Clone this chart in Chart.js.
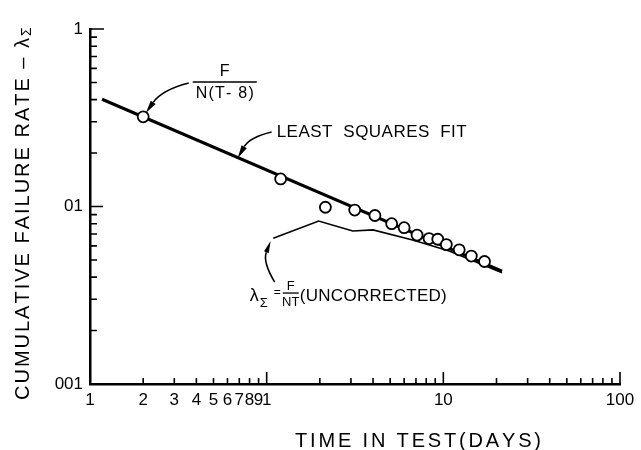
<!DOCTYPE html>
<html><head><meta charset="utf-8">
<script src="https://cdn.jsdelivr.net/npm/chart.js@4/dist/chart.umd.min.js"></script>
<style>html,body{margin:0;padding:0;background:#fff}#wrap{width:641px;height:450px}</style>
</head><body><div id="wrap"><canvas id="c" width="641" height="450"></canvas></div>
<script>
// ---- data (log-log plot) ----
const timeDays      = [0.2, 1.2, 2.15, 3.15, 4.1, 5.1, 6.0, 7.1, 8.3, 9.3, 10.4, 12.3, 14.4, 17.1];
const rateCorrected = [0.32, 0.143, 0.099, 0.0955, 0.089, 0.080, 0.076, 0.069, 0.066, 0.0654, 0.061, 0.057, 0.0526, 0.049];
const fitTime  = [0.117, 21.5];
const fitRate  = [0.402, 0.0433];
const uncorrTime = [1.09, 1.97, 3.07, 4.0, 6.7, 10.8, 21.5];
const uncorrRate = [0.0662, 0.0828, 0.0728, 0.0738, 0.0648, 0.0562, 0.0423];
const xTickValues = [0.1, 0.2, 0.3, 0.4, 0.5, 0.6, 0.7, 0.8, 0.9, 1, 10, 100];
const xTickLabels = ['1', '2', '3', '4', '5', '6', '7', '8', '9', '1', '10', '100'];
const yTickValues = [0.01, 0.1, 1];
const yTickLabels = ['001', '01', '1'];
const xTitle = 'TIME IN TEST(DAYS)';
const yTitle = 'CUMULATIVE FAILURE RATE \u2013 \u03bb';

const FONT = '"Liberation Sans", Arial, sans-serif';

function labelFor(values, labels, v) {
  const i = values.findIndex(t => Math.abs(t - v) / t < 1e-6);
  return i >= 0 ? labels[i] : '';
}

function spaced(ctx, text, x, y, width, align) {
  const chars = [...text];
  const ws = chars.map(c => ctx.measureText(c).width);
  const nat = ws.reduce((a, b) => a + b, 0);
  const gap = chars.length > 1 ? (width - nat) / (chars.length - 1) : 0;
  let cx = align === 'center' ? x - width / 2 : (align === 'right' ? x - width : x);
  ctx.textAlign = 'left';
  chars.forEach((c, i) => { ctx.fillText(c, cx, y); cx += ws[i] + gap; });
}

function arrow(ctx, s, c, t, headLen, headW) {
  const ang = Math.atan2(t[1] - c[1], t[0] - c[0]);
  const bx = t[0] - Math.cos(ang) * headLen, by = t[1] - Math.sin(ang) * headLen;
  ctx.beginPath();
  ctx.moveTo(s[0], s[1]);
  ctx.quadraticCurveTo(c[0], c[1], bx, by);
  ctx.stroke();
  const nx = -Math.sin(ang) * headW / 2, ny = Math.cos(ang) * headW / 2;
  ctx.beginPath();
  ctx.moveTo(t[0], t[1]);
  ctx.lineTo(bx + nx, by + ny);
  ctx.lineTo(bx - nx, by - ny);
  ctx.closePath();
  ctx.fill();
}

const annot = {
  id: 'annot',
  afterDraw(chart) {
    const { ctx, scales: { x, y }, chartArea: ca } = chart;
    const P = (a, b) => [x.getPixelForValue(a), y.getPixelForValue(b)];
    ctx.save();
    ctx.fillStyle = '#000';
    ctx.strokeStyle = '#000';
    ctx.lineCap = 'butt';
    // inward tick marks
    ctx.lineWidth = 1.6;
    ctx.beginPath();
    [0.1, 1, 10].forEach(d => {
      for (let k = 1; k <= 9; k++) {
        const px = x.getPixelForValue(k * d);
        const len = k === 1 ? 12 : 6;
        ctx.moveTo(px, ca.bottom); ctx.lineTo(px, ca.bottom - len);
      }
    });
    { const px = x.getPixelForValue(100); ctx.moveTo(px, ca.bottom); ctx.lineTo(px, ca.bottom - 12); }
    [0.01, 0.1].forEach(d => {
      for (let k = 1; k <= 9; k++) {
        const py = y.getPixelForValue(k * d);
        const len = k === 1 ? 13 : 7;
        ctx.moveTo(ca.left, py); ctx.lineTo(ca.left + len, py);
      }
    });
    { const py = y.getPixelForValue(1); ctx.moveTo(ca.left, py); ctx.lineTo(ca.left + 14, py); }
    ctx.stroke();

    // axis titles
    ctx.textBaseline = 'middle';
    ctx.font = '20px ' + FONT;
    spaced(ctx, xTitle, 418, 441, 246, 'center');
    ctx.save();
    ctx.translate(23, 206);
    ctx.rotate(-Math.PI / 2);
    ctx.font = '20px ' + FONT;
    spaced(ctx, yTitle, -194, 0, 362, 'left');
    ctx.font = '14px ' + FONT;
    ctx.fillText('\u03a3', 170, 4);
    ctx.restore();

    // F / N(T-8) label with arrow
    const f1 = P(0.579, 0.573), bar1 = P(0.579, 0.503), n1 = P(0.579, 0.430);
    ctx.font = '16px ' + FONT;
    ctx.textAlign = 'center';
    ctx.fillText('F', f1[0], f1[1]);
    ctx.lineWidth = 1.5;
    ctx.beginPath(); ctx.moveTo(bar1[0] - 32, bar1[1]); ctx.lineTo(bar1[0] + 32, bar1[1]); ctx.stroke();
    spaced(ctx, 'N(T- 8)', n1[0], n1[1], 58, 'center');
    ctx.lineWidth = 1.6;
    arrow(ctx, P(0.362, 0.496), P(0.255, 0.453), P(0.207, 0.336), 13, 6);

    // LEAST SQUARES FIT
    const l = P(1.139, 0.263);
    ctx.font = '17px ' + FONT;
    spaced(ctx, 'LEAST  SQUARES  FIT', l[0], l[1], 190, 'left');
    arrow(ctx, P(1.067, 0.263), P(0.802, 0.246), P(0.686, 0.1876), 13, 6);

    // lambda_Sigma = F/NT (UNCORRECTED)
    const a = P(0.802, 0.0313);
    ctx.font = '18px ' + FONT;
    ctx.textAlign = 'left';
    ctx.fillText('\u03bb', a[0], a[1]);
    ctx.font = '13px ' + FONT;
    ctx.fillText('\u03a3', a[0] + 10, a[1] + 7);
    ctx.font = '12px ' + FONT;
    ctx.fillText('=', a[0] + 24, a[1] - 3);
    ctx.font = '13px ' + FONT;
    ctx.textAlign = 'center';
    ctx.fillText('F', a[0] + 41, a[1] - 10);
    ctx.lineWidth = 1.3;
    ctx.beginPath(); ctx.moveTo(a[0] + 33, a[1] - 3); ctx.lineTo(a[0] + 49, a[1] - 3); ctx.stroke();
    ctx.fillText('NT', a[0] + 41, a[1] + 6);
    ctx.font = '17px ' + FONT;
    spaced(ctx, '(UNCORRECTED)', a[0] + 50, a[1], 147, 'left');
    ctx.lineWidth = 1.6;
    arrow(ctx, P(1.11, 0.0375), P(0.949, 0.0487), P(1.053, 0.0639), 12, 5);
    ctx.restore();
  }
};

new Chart(document.getElementById('c'), {
  type: 'scatter',
  data: {
    datasets: [
      { label: 'F/N(T-8)', data: timeDays.map((t, i) => ({ x: t, y: rateCorrected[i] })),
        showLine: false, pointRadius: 5.5, pointBackgroundColor: '#fff', pointBorderColor: '#000', pointBorderWidth: 1.8 },
      { label: 'Least squares fit', data: fitTime.map((t, i) => ({ x: t, y: fitRate[i] })),
        showLine: true, borderColor: '#000', borderWidth: 3, pointRadius: 0 },
      { label: 'Uncorrected', data: uncorrTime.map((t, i) => ({ x: t, y: uncorrRate[i] })),
        showLine: true, borderColor: '#000', borderWidth: 1.6, pointRadius: 0 }
    ]
  },
  options: {
    responsive: false, animation: false, devicePixelRatio: 1,
    layout: { padding: { top: 29, right: 21, left: 0, bottom: 0 } },
    plugins: { legend: { display: false }, tooltip: { enabled: false } },
    scales: {
      x: {
        type: 'logarithmic', min: 0.1, max: 100,
        grid: { display: false, drawTicks: false },
        border: { display: true, color: '#000', width: 2.5 },
        afterBuildTicks: s => { s.ticks = xTickValues.map(v => ({ value: v })); },
        ticks: { autoSkip: false, maxRotation: 0, minRotation: 0, padding: 6, color: '#000',
          font: { family: FONT, size: 17 },
          callback: v => labelFor(xTickValues, xTickLabels, v) },
        afterFit: s => { s.height = 66; s.paddingLeft = 0; s.paddingRight = 0; }
      },
      y: {
        type: 'logarithmic', min: 0.01, max: 1,
        grid: { display: false, drawTicks: false },
        border: { display: true, color: '#000', width: 2.5 },
        afterBuildTicks: s => { s.ticks = yTickValues.map(v => ({ value: v })); },
        ticks: { autoSkip: false, padding: 7, color: '#000',
          font: { family: FONT, size: 17 },
          callback: v => labelFor(yTickValues, yTickLabels, v) },
        afterFit: s => { s.width = 90; s.paddingTop = 0; s.paddingBottom = 0; }
      }
    }
  },
  plugins: [annot]
});
</script>
</body></html>
